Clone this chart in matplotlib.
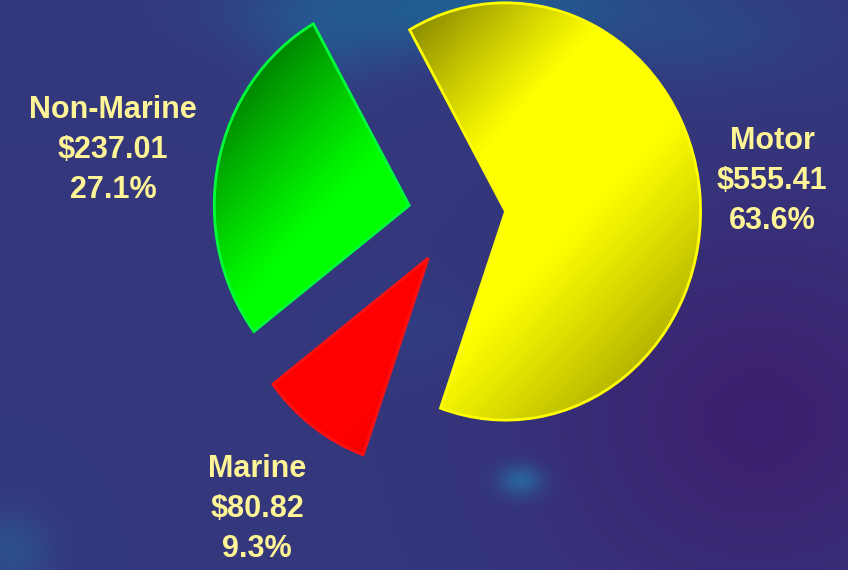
import numpy as np
import matplotlib
matplotlib.use("Agg")
import matplotlib.pyplot as plt
from matplotlib.patches import PathPatch

# premium by class of business
labels = ["Motor", "Non-Marine", "Marine"]
premiums = [555.41, 237.01, 80.82]
base_colors = [(1.0, 1.0, 0.0), (0.0, 1.0, 0.0), (1.0, 0.0, 0.0)]
edge_colors = ["#ffff00", "#00ff3a", "#ff1010"]

W, H = 848, 570
stretch = 1.07  # pie is a little taller than wide

fig = plt.figure(figsize=(W / 100, H / 100), dpi=100)
ax = fig.add_axes([0, 0, 1, 1])

# textured blue/purple backdrop
yy, xx = np.mgrid[0:H, 0:W]
bg = np.zeros((H, W, 3))
bg[:] = np.array([52, 56, 125]) / 255.0


def blob(cx, cy, sx, sy, col, amt):
    g = amt * np.exp(-(((xx - cx) / sx) ** 2 + ((yy - cy) / sy) ** 2))
    return g[..., None] * (np.array(col) / 255.0 - bg)


bg += blob(470, 10, 200, 45, (30, 100, 150), 0.9)
bg += blob(330, 20, 70, 60, (35, 95, 150), 0.6)
bg += blob(700, 40, 120, 50, (40, 80, 140), 0.5)
bg += blob(760, 420, 220, 200, (62, 28, 108), 0.8)
bg += blob(520, 480, 22, 16, (40, 110, 165), 0.8)
bg += blob(10, 550, 40, 40, (40, 95, 150), 0.6)
bg += blob(420, 330, 60, 40, (45, 70, 140), 0.4)
ax.imshow(np.clip(bg, 0, 1), extent=[0, W, 0, H / stretch], aspect="auto",
          origin="upper", zorder=0)

cx, cy = 457, (H - 216) / stretch
radius = 195
gap = 0.25 * radius  # every slice pulled out by the same amount

wedges, _ = ax.pie(premiums, colors=base_colors, explode=[gap] * 3,
                   startangle=-109.5, counterclock=True, center=(cx, cy),
                   radius=radius, wedgeprops=dict(linewidth=0), frame=True)

# diagonal shading: bright band through the middle, darker towards
# the top-left corner and a little darker towards the bottom-right
n = 300
gy, gx = np.mgrid[0:n, 0:n] / (n - 1) * 2 - 1
t = (gx + gy) / 2.0
k = np.where(t < 0, 1.0, 0.6)
shade = np.clip(1 - k * np.clip(np.abs(t) - 0.2, 0, None) ** 1.1, 0.5, 1)
for w, col in zip(wedges, base_colors):
    wx, wy = w.center
    r = w.r
    img = np.ones((n, n, 4))
    img[..., :3] = np.array(col)[None, None, :] * shade[..., None]
    im = ax.imshow(img, extent=[wx - r, wx + r, wy - r, wy + r],
                   aspect="auto", origin="upper", zorder=2)
    im.set_clip_path(w)

for w, ec in zip(wedges, edge_colors):
    ax.add_patch(PathPatch(w.get_path(), transform=w.get_transform(),
                           fill=False, edgecolor=ec, linewidth=2, zorder=3))

ax.set_xlim(0, W)
ax.set_ylim(0, H / stretch)
ax.set_aspect("auto")
ax.axis("off")

# labels, placed in pixel positions of the figure
total = sum(premiums)
label_pos = {"Motor": (772, 181), "Non-Marine": (113, 150), "Marine": (257, 509)}
font = ["Liberation Sans Narrow", "Liberation Sans", "DejaVu Sans"]
for name, val in zip(labels, premiums):
    px, py = label_pos[name]
    txt = f"{name}\n${val:.2f}\n{val / total * 100:.1f}%"
    fig.text(px / W, 1 - py / H, txt, ha="center", va="center",
             fontsize=22, fontweight="bold", color="#fff596",
             family=font, linespacing=1.45, zorder=5)

fig.savefig("out.png", dpi=100)
